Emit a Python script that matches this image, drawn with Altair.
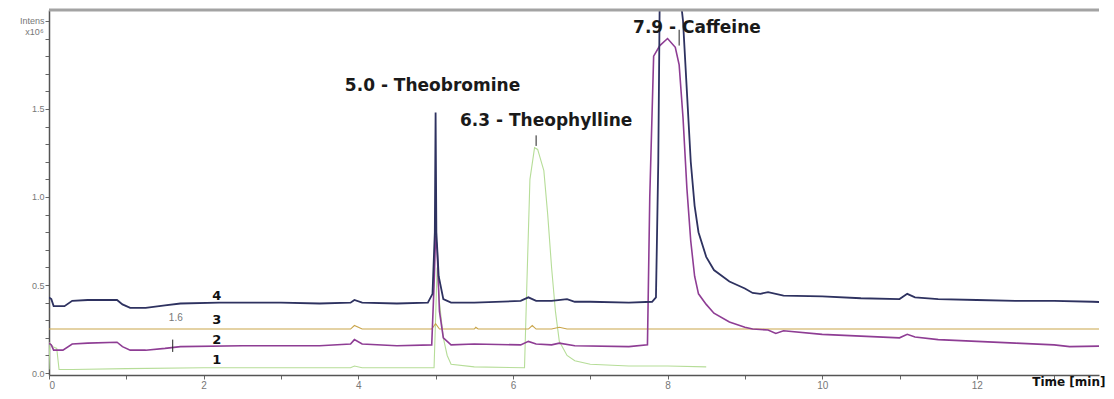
import altair as alt
import pandas as pd

# ---- trace keypoints (time in min, intensity x10^6) ----
t4 = [0.0, 0.03, 0.06, 0.2, 0.3, 0.5, 0.88, 0.95, 1.05, 1.25, 1.5, 1.7, 2.2, 3.0, 3.5, 3.9, 3.95, 4.05, 4.5, 4.9,
      4.96, 4.99, 5.0, 5.01, 5.04, 5.1, 5.2, 5.5, 6.1, 6.2, 6.3, 6.5, 6.7, 6.8, 7.0, 7.5, 7.8, 7.85, 7.88, 7.9,
      8.15, 8.2, 8.25, 8.3, 8.35, 8.4, 8.5, 8.6, 8.8, 9.0, 9.1, 9.2, 9.3, 9.5, 10.0, 10.5, 11.0, 11.1, 11.2, 11.5,
      12.0, 12.5, 13.0, 13.5, 13.8]
v4 = [0.43, 0.42, 0.38, 0.38, 0.41, 0.415, 0.415, 0.39, 0.37, 0.37, 0.385, 0.395, 0.40, 0.40, 0.395, 0.40, 0.415, 0.40, 0.395, 0.40,
      0.45, 0.8, 1.48, 0.8, 0.55, 0.42, 0.40, 0.40, 0.41, 0.43, 0.41, 0.41, 0.42, 0.405, 0.405, 0.40, 0.405, 0.43, 1.2, 2.2,
      2.2, 2.0, 1.6, 1.2, 0.95, 0.8, 0.66, 0.585, 0.52, 0.48, 0.455, 0.45, 0.46, 0.44, 0.435, 0.425, 0.42, 0.45, 0.43, 0.42,
      0.415, 0.41, 0.41, 0.405, 0.40]

t2 = [0.0, 0.03, 0.06, 0.18, 0.3, 0.5, 0.88, 0.95, 1.05, 1.25, 1.5, 1.7, 2.5, 3.0, 3.5, 3.9, 3.95, 4.05, 4.5, 4.95,
      4.98, 5.0, 5.02, 5.05, 5.1, 5.2, 5.5, 6.1, 6.2, 6.3, 6.5, 6.6, 6.8, 7.5, 7.74, 7.77, 7.82, 7.9, 8.0, 8.1,
      8.15, 8.2, 8.25, 8.3, 8.35, 8.4, 8.5, 8.6, 8.8, 9.0, 9.1, 9.3, 9.4, 9.5, 10.0, 10.5, 11.0, 11.1, 11.2, 11.5,
      12.0, 12.5, 13.0, 13.2, 13.8]
v2 = [0.17, 0.16, 0.13, 0.13, 0.165, 0.17, 0.175, 0.15, 0.13, 0.13, 0.14, 0.15, 0.155, 0.155, 0.155, 0.165, 0.19, 0.165, 0.155, 0.16,
      0.5, 0.78, 0.7, 0.35, 0.2, 0.16, 0.165, 0.16, 0.18, 0.165, 0.16, 0.17, 0.155, 0.15, 0.16, 1.0, 1.8, 1.86, 1.9, 1.85,
      1.75, 1.45, 1.05, 0.75, 0.55, 0.45, 0.39, 0.34, 0.29, 0.26, 0.25, 0.245, 0.225, 0.24, 0.22, 0.21, 0.20, 0.22, 0.205, 0.19,
      0.18, 0.17, 0.16, 0.15, 0.155]

t3 = [0.0, 3.9, 3.95, 4.05, 4.95, 5.0, 5.05, 5.5, 5.52, 5.55, 6.2, 6.25, 6.3, 6.5, 6.6, 6.7, 13.8]
v3 = [0.25, 0.25, 0.27, 0.25, 0.25, 0.28, 0.25, 0.25, 0.26, 0.25, 0.25, 0.27, 0.25, 0.25, 0.26, 0.25, 0.25]

t1 = [0.0, 0.01, 0.05, 0.1, 0.13, 0.3, 1.0, 2.0, 3.9, 3.95, 4.05, 4.98, 5.02, 5.05, 5.1, 5.15, 5.2, 5.5, 6.15, 6.18,
      6.22, 6.28, 6.32, 6.4, 6.45, 6.5, 6.55, 6.6, 6.7, 6.8, 7.0, 7.5, 8.0, 8.5]
v1 = [0.02, 0.17, 0.15, 0.14, 0.02, 0.02, 0.025, 0.03, 0.03, 0.04, 0.03, 0.03, 0.6, 0.4, 0.2, 0.1, 0.05, 0.035, 0.03, 0.5,
      1.1, 1.28, 1.27, 1.15, 0.9, 0.6, 0.35, 0.18, 0.1, 0.07, 0.05, 0.04, 0.04, 0.035]

series_names = ["4", "2", "3", "1"]
series_colors = ["#2e3260", "#8e3d94", "#c9a54a", "#b6dd98"]
series_widths = [1.8, 1.6, 1.1, 1.1]

# ---- axis tick values / labels ----
y_tick_values = [round(i * 0.1, 1) for i in range(0, 21)]
y_label_values = ["0.0", "0.5", "1.0", "1.5"]
x_tick_values = list(range(0, 14))

# ---- annotations ----
peak_text = ["5.0 - Theobromine", "6.3 - Theophylline", "7.9 - Caffeine"]
peak_t = [4.96, 6.43, 8.38]
peak_y = [1.63, 1.43, 1.96]

num_text = ["4", "3", "2", "1"]
num_t = [2.17, 2.17, 2.17, 2.17]
num_y = [0.44, 0.30, 0.19, 0.075]

XMAX = 13.58
YMIN, YMAX = -0.011, 2.062

rows = []
for name, ts, vs in zip(series_names, [t4, t2, t3, t1], [v4, v2, v3, v1]):
    for i, (t, v) in enumerate(zip(ts, vs)):
        rows.append({"trace": name, "t": t, "v": v, "order": i})
df = pd.DataFrame(rows)

xscale = alt.Scale(domain=[0, XMAX], nice=False, zero=False)
yscale = alt.Scale(domain=[YMIN, YMAX], nice=False, zero=False)

xaxis = alt.Axis(values=x_tick_values, labelExpr="datum.value % 2 == 0 ? datum.value : ''",
                 grid=False, tickSize=4, tickColor="#666", domainColor="#555", domainWidth=1.5,
                 labelColor="#777", labelFontSize=10, labelFont="Liberation Sans", labelPadding=1,
                 labelOverlap=False,
                 title="Time [min]", titleFont="DejaVu Sans", titleFontSize=12, titleFontWeight="bold",
                 titleColor="#111", titleAnchor="end", titleAlign="right", titleBaseline="top",
                 titleX=1056, titleY=1)
label_list = "[" + ",".join("'%s'" % s for s in y_label_values) + "]"
yaxis = alt.Axis(values=y_tick_values,
                 labelExpr="datum.value > 1.95 ? 'Intens' : (indexof(" + label_list +
                           ", format(datum.value, '.1f')) >= 0 ? format(datum.value, '.1f') : '')",
                 grid=False, tickSize=4, tickColor="#666", domainColor="#555", domainWidth=1.5,
                 labelColor="#777", labelFontSize=9, labelFont="Liberation Sans", labelPadding=1,
                 labelOverlap=False, title=None)


def X(field):
    return alt.X(field, scale=xscale, axis=xaxis)


def Y(field):
    return alt.Y(field, scale=yscale, axis=yaxis)


layers = []
for name, col, w in zip(series_names[::-1], series_colors[::-1], series_widths[::-1]):
    layers.append(
        alt.Chart(df[df.trace == name]).mark_line(color=col, strokeWidth=w, clip=True).encode(
            x=X("t:Q"), y=Y("v:Q"), order="order:Q",
        )
    )

peaks = alt.Chart(pd.DataFrame({"t": peak_t, "v": peak_y, "label": peak_text})).mark_text(
    font="DejaVu Sans", fontSize=17, fontWeight="bold", color="#1a1a1a", align="center", baseline="middle"
).encode(x=X("t:Q"), y=Y("v:Q"), text="label:N")

nums = alt.Chart(pd.DataFrame({"t": num_t, "v": num_y, "label": num_text})).mark_text(
    font="DejaVu Sans", fontSize=13, fontWeight="bold", color="#111", align="center", baseline="middle"
).encode(x=X("t:Q"), y=Y("v:Q"), text="label:N")

# small marker ticks
tick_t = [6.3, 1.6, 8.15]
tick_y1 = [1.29, 0.12, 1.86]
tick_y2 = [1.35, 0.19, 1.95]
ticks = alt.Chart(pd.DataFrame({"t": tick_t, "v": tick_y1, "v2": tick_y2})).mark_rule(
    color="#222", strokeWidth=1
).encode(x=X("t:Q"), y=Y("v:Q"), y2="v2:Q")

small = alt.Chart(pd.DataFrame({"t": [1.64], "v": [0.31], "label": ["1.6"]})).mark_text(
    font="Liberation Sans", fontSize=10, color="#777", align="center", baseline="middle"
).encode(x=X("t:Q"), y=Y("v:Q"), text="label:N")

unit = alt.Chart(pd.DataFrame({"t": [-0.07], "v": [1.935], "label": ["x10⁶"]})).mark_text(
    font="Liberation Sans", fontSize=9, color="#777", align="right", baseline="middle"
).encode(x=X("t:Q"), y=Y("v:Q"), text="label:N")

frame = alt.Chart(pd.DataFrame({"v": [YMAX]})).mark_rule(color="#a3a3a3", strokeWidth=3).encode(
    y=Y("v:Q"), x=alt.value(0), x2=alt.value(1050)
)

chart = alt.layer(*layers, ticks, peaks, nums, small, unit, frame).properties(
    width=1050, height=365,
    autosize=alt.AutoSizeParams(type="none"),
    padding={"left": 41, "top": 2, "right": 7, "bottom": 16},
).configure(background="white").configure_view(stroke=None)

chart.save("out.html", embed_options={"renderer": "svg", "actions": False})
